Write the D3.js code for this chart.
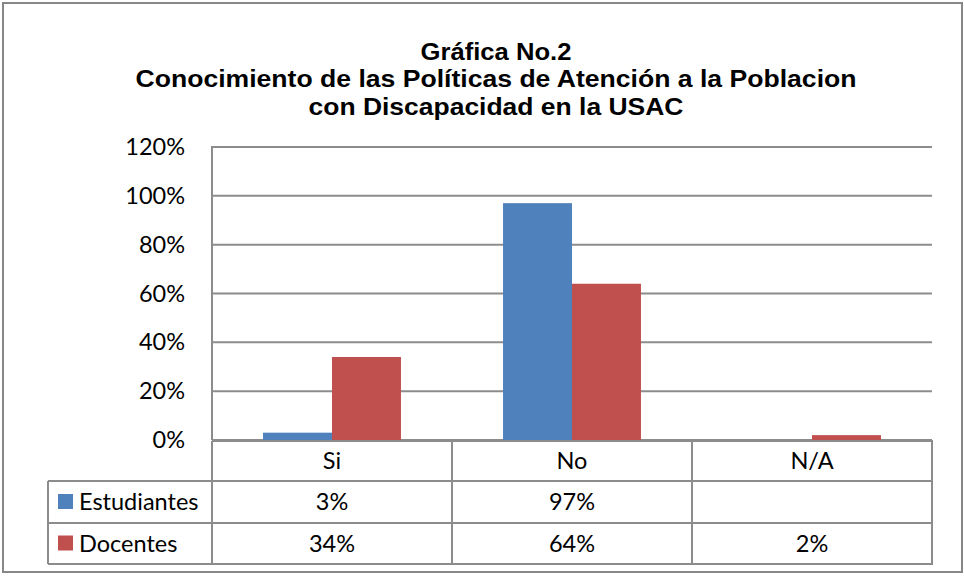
<!DOCTYPE html>
<html><head><meta charset="utf-8">
<script src="https://cdn.jsdelivr.net/npm/d3@7"></script>
<style>body{margin:0;background:#fff}svg{display:block}</style>
</head><body>
<script>
const categories = ["Si", "No", "N/A"];
const seriesNames = ["Estudiantes", "Docentes"];
const estudiantes = [0.03, 0.97, null];
const docentes = [0.34, 0.64, 0.02];
const yTicks = [0, 0.2, 0.4, 0.6, 0.8, 1.0, 1.2];
const titleLines = ["Gráfica No.2", "Conocimiento de las Políticas de Atención a la Poblacion", "con Discapacidad en la USAC"];
const colors = ["#4F81BD", "#C0504D"];

const W = 964, H = 576;
const svg = d3.select("body").append("svg").attr("width", W).attr("height", H);
svg.append("rect").attr("x", 3).attr("y", 3).attr("width", 959).attr("height", 569)
  .attr("fill", "#fff").attr("stroke", "#878787").attr("stroke-width", 2);

const plotL = 212, plotR = 932, plotT = 147, plotB = 440;
const font = "Lato, 'Open Sans', sans-serif";
const fs = 23.5;

const x = d3.scaleBand().domain(categories).range([plotL, plotR]);
const y = d3.scaleLinear().domain([0, 1.2]).range([plotB, plotT]);
const xs = d3.scaleBand().domain(seriesNames).range([0, x.bandwidth()]).paddingOuter(0.74);

// title
const titleWidths = [151, 721, 375];
svg.append("g").selectAll("text").data(titleLines).join("text")
  .attr("x", 496).attr("y", (d, i) => 59.5 + i * 27.5)
  .attr("text-anchor", "middle")
  .attr("font-family", "'Liberation Sans', Arial, sans-serif")
  .attr("font-weight", "bold").attr("font-size", 23.5).attr("fill", "#000")
  .attr("textLength", (d, i) => titleWidths[i]).attr("lengthAdjust", "spacingAndGlyphs")
  .text(d => d);

// y axis labels
const yAxis = d3.axisLeft(y).tickValues(yTicks).tickFormat(d3.format(".0%")).tickSize(0).tickPadding(27);
const ga = svg.append("g").attr("transform", `translate(${plotL},0)`).call(yAxis);
ga.select(".domain").remove();
ga.selectAll("text").attr("font-family", font).attr("font-size", fs).attr("fill", "#000");

// gridlines
svg.append("g").selectAll("line").data(yTicks).join("line")
  .attr("x1", plotL).attr("x2", plotR)
  .attr("y1", d => y(d)).attr("y2", d => y(d))
  .attr("stroke", "#8c8c8c").attr("stroke-width", 2);
svg.append("line").attr("x1", plotL).attr("x2", plotL).attr("y1", plotT - 1).attr("y2", plotB)
  .attr("stroke", "#8c8c8c").attr("stroke-width", 2);

// bars
const series = [estudiantes, docentes];
series.forEach((vals, si) => {
  svg.append("g").selectAll("rect").data(categories.map((c, i) => ({c, v: vals[i]})).filter(d => d.v != null))
    .join("rect")
    .attr("x", d => x(d.c) + xs(seriesNames[si]))
    .attr("width", xs.bandwidth())
    .attr("y", d => y(d.v))
    .attr("height", d => plotB - y(d.v))
    .attr("fill", colors[si]);
});

// data table
const tblL = 48, row0T = 441, rowH = [40, 42, 41];
const rowY = [row0T, row0T + rowH[0], row0T + rowH[0] + rowH[1], row0T + rowH[0] + rowH[1] + rowH[2]];
const tg = svg.append("g");
const lineStyle = sel => sel.attr("stroke", "#8c8c8c").attr("stroke-width", 2);
tg.append("line").attr("x1", plotL).attr("x2", plotR + 1).attr("y1", rowY[0]).attr("y2", rowY[0]).call(lineStyle);
[1, 2, 3].forEach(r => tg.append("line").attr("x1", tblL).attr("x2", plotR + 1).attr("y1", rowY[r]).attr("y2", rowY[r]).call(lineStyle));
const vx = [plotL, ...categories.map(c => x(c) + x.bandwidth())];
vx.forEach(v => tg.append("line").attr("x1", v).attr("x2", v).attr("y1", rowY[0]).attr("y2", rowY[3]).call(lineStyle));
tg.append("line").attr("x1", tblL).attr("x2", tblL).attr("y1", rowY[1]).attr("y2", rowY[3]).call(lineStyle);

tg.append("g").selectAll("text").data(categories).join("text")
  .attr("x", d => x(d) + x.bandwidth() / 2).attr("y", (rowY[0] + rowY[1]) / 2 + 8)
  .attr("text-anchor", "middle").attr("font-family", font).attr("font-size", fs).text(d => d);

series.forEach((vals, si) => {
  const cy = (rowY[si + 1] + rowY[si + 2]) / 2;
  tg.append("rect").attr("x", 58).attr("y", cy - 8).attr("width", 15).attr("height", 15).attr("fill", colors[si]);
  tg.append("text").attr("x", 79).attr("y", cy + 8).attr("font-family", font).attr("font-size", fs).text(seriesNames[si]);
  tg.append("g").selectAll("text").data(categories.map((c, i) => ({c, v: vals[i]})).filter(d => d.v != null))
    .join("text")
    .attr("x", d => x(d.c) + x.bandwidth() / 2).attr("y", cy + 8)
    .attr("text-anchor", "middle").attr("font-family", font).attr("font-size", fs)
    .text(d => d3.format(".0%")(d.v));
});
</script>
</body></html>
